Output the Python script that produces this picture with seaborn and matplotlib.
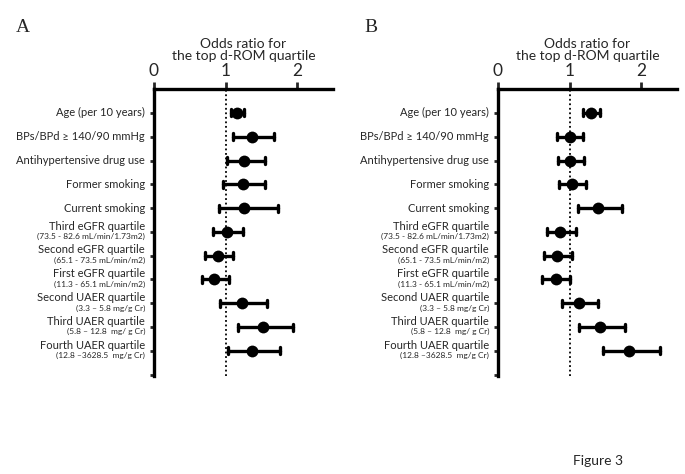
import matplotlib
matplotlib.use("Agg")
import matplotlib.pyplot as plt
import matplotlib.transforms as mtransforms
import seaborn as sns
import pandas as pd

sns.set_style("white")
plt.rcParams["font.family"] = ["Lato", "DejaVu Sans"]

labels = [
    "Age (per 10 years)",
    "BPs/BPd \u2265 140/90 mmHg",
    "Antihypertensive drug use",
    "Former smoking",
    "Current smoking",
    "Third eGFR quartile",
    "Second eGFR quartile",
    "First eGFR quartile",
    "Second UAER quartile",
    "Third UAER quartile",
    "Fourth UAER quartile",
]
sublabels = [
    "", "", "", "", "",
    "(73.5 - 82.6 mL/min/1.73m2)",
    "(65.1 - 73.5 mL/min/m2)",
    "(11.3 - 65.1 mL/min/m2)",
    "(3.3 \u2013 5.8 mg/g Cr)",
    "(5.8 \u2013 12.8  mg/ g Cr)",
    "(12.8 \u20133628.5  mg/g Cr)",
]

or_a = [1.16, 1.37, 1.26, 1.24, 1.26, 1.02, 0.89, 0.84, 1.23, 1.53, 1.37]
lo_a = [1.07, 1.11, 1.02, 0.97, 0.91, 0.82, 0.71, 0.67, 0.93, 1.18, 1.04]
hi_a = [1.26, 1.68, 1.55, 1.55, 1.74, 1.24, 1.10, 1.05, 1.58, 1.94, 1.76]

or_b = [1.30, 1.00, 1.01, 1.03, 1.40, 0.87, 0.83, 0.81, 1.13, 1.42, 1.83]
lo_b = [1.19, 0.83, 0.84, 0.85, 1.12, 0.69, 0.65, 0.62, 0.90, 1.13, 1.47]
hi_b = [1.42, 1.19, 1.20, 1.23, 1.74, 1.09, 1.03, 1.01, 1.40, 1.77, 2.27]


def long_table(ors, los, his):
    rows = []
    for lab, o, lo, hi in zip(labels, ors, los, his):
        for v in (lo, o, hi):
            rows.append({"label": lab, "value": v})
    return pd.DataFrame(rows)


def draw_panel(ax, ors, los, his):
    df = long_table(ors, los, his)
    sns.pointplot(
        data=df, x="value", y="label", order=labels, orient="h",
        estimator="median", errorbar=lambda v: (v.min(), v.max()),
        color="black", marker="o", markersize=8.5, markeredgewidth=0,
        linestyle="none", capsize=0.3, err_kws={"linewidth": 2.4}, ax=ax,
    )
    n = len(labels)
    ax.axvline(1, color="black", linestyle=(0, (1, 1.5)), linewidth=1.3, zorder=0)
    ax.set_xlim(0, 2.5)
    ax.set_ylim(n + 0.05, -1)
    ax.set_xlabel("")
    ax.set_ylabel("")
    ax.xaxis.tick_top()
    ax.set_xticks([0, 1, 2])
    ax.set_xticklabels(["0", "1", "2"], fontsize=12.5)
    ax.tick_params(axis="x", direction="out", length=5, width=2, pad=2)
    ax.set_yticks(list(range(n + 1)))
    ax.set_yticklabels([""] * (n + 1))
    ax.tick_params(axis="y", direction="out", length=3, width=2, left=True)
    for s in ["right", "bottom"]:
        ax.spines[s].set_visible(False)
    for s in ["top", "left"]:
        ax.spines[s].set_linewidth(2.4)
        ax.spines[s].set_color("black")
    ax.grid(False)

    trans = mtransforms.blended_transform_factory(ax.transAxes, ax.transData)
    for i, (lab, sub) in enumerate(zip(labels, sublabels)):
        if sub:
            ax.text(-0.05, i - 0.24, lab, transform=trans, ha="right", va="center",
                    fontsize=8)
            ax.text(-0.05, i + 0.2, sub, transform=trans, ha="right", va="center",
                    fontsize=6)
        else:
            ax.text(-0.05, i, lab, transform=trans, ha="right", va="center",
                    fontsize=8)

    title_trans = mtransforms.blended_transform_factory(ax.transData, ax.figure.transFigure)
    ax.text(1.25, 1 - 50 / 474, "Odds ratio for\nthe top d-ROM quartile",
            transform=title_trans, ha="center", va="center", fontsize=10,
            linespacing=0.95)


fig = plt.figure(figsize=(6.85, 4.74), dpi=100)
ax_a = fig.add_axes([0.2248, 0.207, 0.261, 0.605])
ax_b = fig.add_axes([0.727, 0.207, 0.261, 0.605])

draw_panel(ax_a, or_a, lo_a, hi_a)
draw_panel(ax_b, or_b, lo_b, hi_b)

fig.text(23 / 685, 1 - 28 / 474, "A", family="Liberation Serif", fontsize=14,
         va="center", ha="center")
fig.text(371 / 685, 1 - 28 / 474, "B", family="Liberation Serif", fontsize=14,
         va="center", ha="center")
fig.text(598 / 685, 1 - 461 / 474, "Figure 3", fontsize=10, ha="center", va="center")

fig.savefig("out.png", dpi=100)
